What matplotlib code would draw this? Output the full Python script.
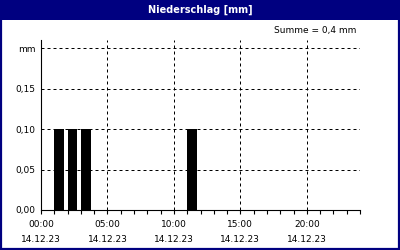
import matplotlib
matplotlib.use("Agg")
import matplotlib.pyplot as plt
from matplotlib.patches import Rectangle

# hourly precipitation on 14.12.23 (mm), bar starts at the hour
hours = [1, 2, 3, 11]
rain = [0.1, 0.1, 0.1, 0.1]

yticks = [0.0, 0.05, 0.10, 0.15, 0.20]
ytick_labels = ["0,00", "0,05", "0,10", "0,15", "mm"]
xticks = [0, 5, 10, 15, 20]
xtick_labels = ["00:00\n14.12.23", "05:00\n14.12.23", "10:00\n14.12.23",
                "15:00\n14.12.23", "20:00\n14.12.23"]

navy = "#000080"

fig = plt.figure(figsize=(4, 2.5), dpi=100)
fig.patch.set_facecolor("white")

# title bar and frame
fig.patches.append(Rectangle((0, 0.92), 1, 0.08, transform=fig.transFigure,
                              facecolor=navy, edgecolor="none", zorder=0))
fig.patches.append(Rectangle((0.002, 0.004), 0.996, 0.994, transform=fig.transFigure,
                              facecolor="none", edgecolor=navy, linewidth=1.6, zorder=5))
fig.text(0.5, 0.962, "Niederschlag [mm]", color="white", fontsize=7,
         fontweight="bold", ha="center", va="center")
fig.text(0.89, 0.88, "Summe = 0,4 mm", fontsize=6.5, ha="right", va="center")

ax = fig.add_axes([0.1025, 0.16, 0.7975, 0.68])
ax.bar(hours, rain, width=0.74, align="edge", color="black", zorder=3)

ax.set_xlim(0, 24)
ax.set_ylim(0, 0.21)
ax.set_xticks(xticks)
ax.set_xticklabels(xtick_labels)
ax.set_xticks(range(25), minor=True)
ax.set_yticks(yticks)
ax.set_yticklabels(ytick_labels)

for lab in ax.get_xticklabels():
    lab.set_linespacing(1.85)

ax.tick_params(axis="x", which="both", direction="out", length=3,
               width=0.8, labelsize=6.5, color="black", pad=4)
ax.tick_params(axis="y", length=0, labelsize=6.5, pad=4)

ax.grid(True, which="major", color="black", linestyle=(0, (3, 3)), linewidth=0.72)
ax.spines["top"].set_visible(False)
ax.spines["right"].set_visible(False)
ax.spines["left"].set_linewidth(0.8)
ax.spines["bottom"].set_linewidth(0.8)

fig.savefig("out.png", dpi=100)
